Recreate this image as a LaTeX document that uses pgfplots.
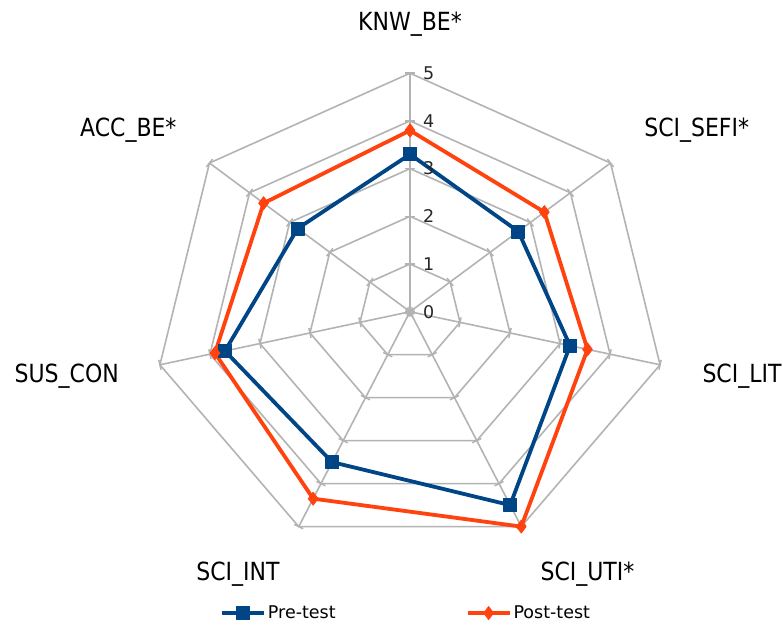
\documentclass[border=0pt]{standalone}
\usepackage{fontspec}
\setmainfont{DejaVu Sans}
\newfontfamily\labfont{DejaVu Sans}[FakeStretch=0.88]
\usepackage{pgfplots}
\pgfplotsset{compat=1.18}
\usepgfplotslibrary{polar}
\definecolor{pre}{HTML}{004586}
\definecolor{post}{HTML}{FF420E}
\definecolor{gridc}{HTML}{B3B3B3}
\begin{document}
\begin{tikzpicture}
\begin{axis}[
  x=51.3pt, y=47.7pt,
  xmin=-7.992, xmax=7.271, ymin=-6.610, ymax=6.535,
  hide axis, clip=false,
  legend columns=2,
  legend style={draw=none, fill=none, at={(axis cs:-3.704,-6.317)}, anchor=west, inner sep=0pt,
    font=\fontsize{17.5}{20}\selectfont,
    /tikz/every even column/.append style={column sep=128pt}},
  legend image code/.code={\draw[mark repeat=2,mark phase=2,#1] plot coordinates {(0pt,0pt)(21pt,0pt)(42pt,0pt)};},
  grid poly/.style={gridc, line width=1.6pt, data cs=polar, forget plot, mark=none},
  spoke/.style={gridc, line width=1.6pt, data cs=polar, forget plot, mark=|, mark size=5pt, mark options={rotate=#1, solid, line width=1.5pt}},
]
% polygons
\addplot[grid poly] coordinates {(90,1)(38.571,1)(-12.857,1)(-64.286,1)(-115.714,1)(-167.143,1)(141.429,1)(90,1)};
\addplot[grid poly] coordinates {(90,2)(38.571,2)(-12.857,2)(-64.286,2)(-115.714,2)(-167.143,2)(141.429,2)(90,2)};
\addplot[grid poly] coordinates {(90,3)(38.571,3)(-12.857,3)(-64.286,3)(-115.714,3)(-167.143,3)(141.429,3)(90,3)};
\addplot[grid poly] coordinates {(90,4)(38.571,4)(-12.857,4)(-64.286,4)(-115.714,4)(-167.143,4)(141.429,4)(90,4)};
\addplot[grid poly] coordinates {(90,5)(38.571,5)(-12.857,5)(-64.286,5)(-115.714,5)(-167.143,5)(141.429,5)(90,5)};
% spokes
\addplot[spoke=90] coordinates {(90,0)(90,1)(90,2)(90,3)(90,4)(90,5)};
\addplot[spoke=38.571] coordinates {(38.571,0)(38.571,1)(38.571,2)(38.571,3)(38.571,4)(38.571,5)};
\addplot[spoke=-12.857] coordinates {(-12.857,0)(-12.857,1)(-12.857,2)(-12.857,3)(-12.857,4)(-12.857,5)};
\addplot[spoke=-64.286] coordinates {(-64.286,0)(-64.286,1)(-64.286,2)(-64.286,3)(-64.286,4)(-64.286,5)};
\addplot[spoke=-115.714] coordinates {(-115.714,0)(-115.714,1)(-115.714,2)(-115.714,3)(-115.714,4)(-115.714,5)};
\addplot[spoke=-167.143] coordinates {(-167.143,0)(-167.143,1)(-167.143,2)(-167.143,3)(-167.143,4)(-167.143,5)};
\addplot[spoke=141.429] coordinates {(141.429,0)(141.429,1)(141.429,2)(141.429,3)(141.429,4)(141.429,5)};
% data
\addplot[pre, line width=3.8pt, line join=round, data cs=polar, mark=square*, mark size=6.5pt, mark options={solid, line width=0.8pt, fill=pre}]
  coordinates {(90,3.3)(38.571,2.7)(-12.857,3.2)(-64.286,4.5)(-115.714,3.5)(-167.143,3.7)(141.429,2.8)(90,3.3)};
\addlegendentry{Pre-test}
\addplot[post, line width=3.8pt, line join=round, data cs=polar, mark=diamond*, mark size=6.5pt, mark options={solid, line width=0.8pt, fill=post}]
  coordinates {(90,3.8)(38.571,3.35)(-12.857,3.55)(-64.286,5.0)(-115.714,4.35)(-167.143,3.9)(141.429,3.65)(90,3.8)};
\addlegendentry{Post-test}
% scale numbers
\foreach \r in {0,...,5}{
  \edef\tmp{\noexpand\node[anchor=west, inner sep=0pt, font=\noexpand\fontsize{17.5}{18}\noexpand\selectfont, text=black!85] at (axis cs:0.25,\r) {\r};}
  \tmp
}
% category labels
\node[anchor=base, inner sep=0pt, font=\labfont\fontsize{25}{28}\selectfont] at (axis cs:0,5.891) {KNW\_BE*};
\node[anchor=base, inner sep=0pt, font=\labfont\fontsize{25}{28}\selectfont] at (axis cs:5.589,3.669) {SCI\_SEFI*};
\node[anchor=base, inner sep=0pt, font=\labfont\fontsize{25}{28}\selectfont] at (axis cs:6.472,-1.474) {SCI\_LIT};
\node[anchor=base, inner sep=0pt, font=\labfont\fontsize{25}{28}\selectfont] at (axis cs:3.460,-5.625) {SCI\_UTI*};
\node[anchor=base, inner sep=0pt, font=\labfont\fontsize{25}{28}\selectfont] at (axis cs:-3.353,-5.625) {SCI\_INT};
\node[anchor=base, inner sep=0pt, font=\labfont\fontsize{25}{28}\selectfont] at (axis cs:-6.692,-1.474) {SUS\_CON};
\node[anchor=base, inner sep=0pt, font=\labfont\fontsize{25}{28}\selectfont] at (axis cs:-5.491,3.669) {ACC\_BE*};
\path (axis cs:-7.992,-6.610) rectangle (axis cs:7.271,6.535);
\end{axis}
\end{tikzpicture}
\end{document}
